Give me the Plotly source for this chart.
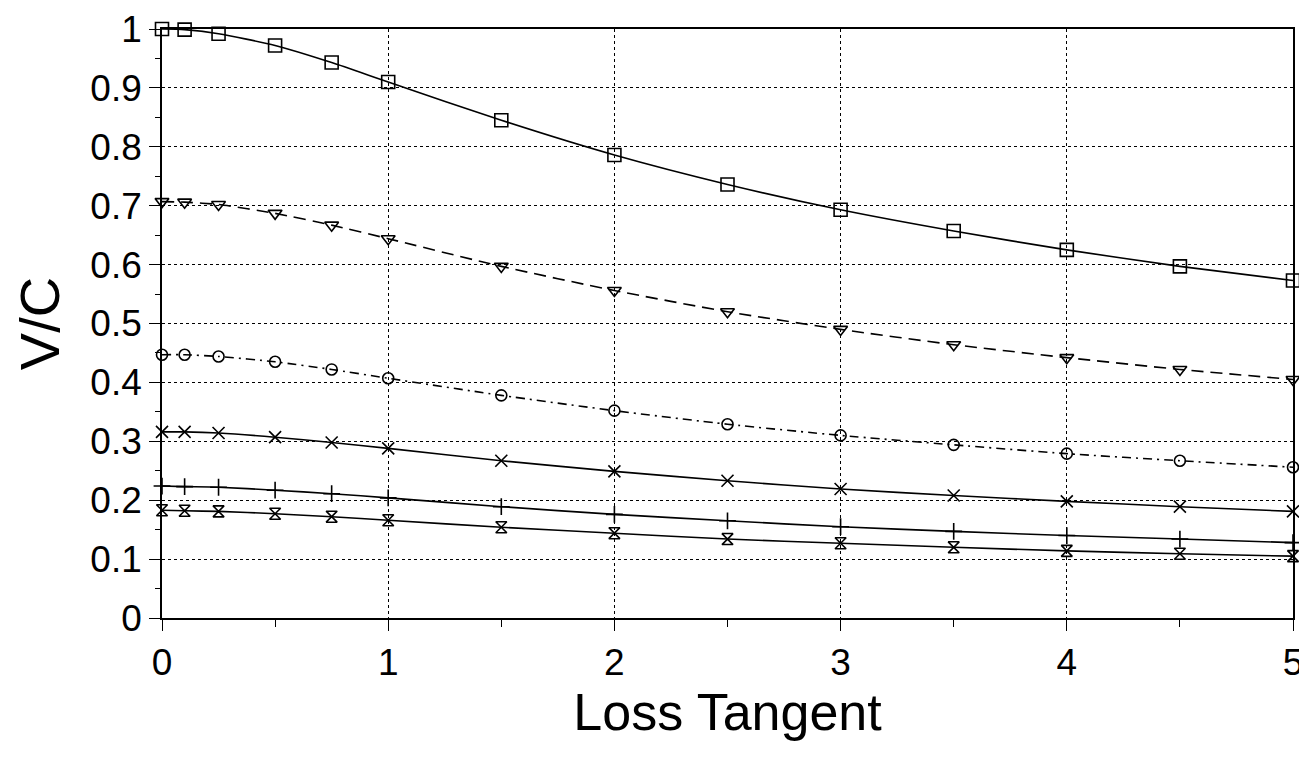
import plotly.graph_objects as go

loss_tangent = [0, 0.1, 0.25, 0.5, 0.75, 1, 1.5, 2, 2.5, 3, 3.5, 4, 4.5, 5]

vc_square = [1.000, 0.999, 0.992, 0.972, 0.943, 0.910, 0.845, 0.786, 0.736, 0.693, 0.657, 0.625, 0.597, 0.573]
vc_triangle = [0.707, 0.706, 0.702, 0.687, 0.667, 0.644, 0.597, 0.556, 0.520, 0.490, 0.464, 0.442, 0.422, 0.405]
vc_circle = [0.447, 0.447, 0.444, 0.435, 0.422, 0.407, 0.378, 0.352, 0.329, 0.310, 0.294, 0.279, 0.267, 0.256]
vc_x = [0.316, 0.316, 0.314, 0.307, 0.298, 0.288, 0.267, 0.249, 0.233, 0.219, 0.208, 0.198, 0.189, 0.181]
vc_plus = [0.224, 0.223, 0.222, 0.217, 0.211, 0.204, 0.189, 0.176, 0.165, 0.155, 0.147, 0.140, 0.134, 0.128]
vc_hourglass = [0.183, 0.182, 0.181, 0.177, 0.172, 0.166, 0.154, 0.144, 0.134, 0.127, 0.120, 0.114, 0.109, 0.105]

series = [
    (vc_square, "square-open", "solid", 13),
    (vc_triangle, "triangle-down-open", "12px,7px", 12),
    (vc_circle, "circle-open", "9px,5px,2px,5px", 11),
    (vc_x, "x-thin-open", "solid", 12),
    (vc_plus, "cross-thin-open", "solid", 12),
    (vc_hourglass, "hourglass-open", "solid", 11),
]

fig = go.Figure()
for ys, sym, dash, size in series:
    fig.add_trace(go.Scatter(
        x=loss_tangent, y=ys, mode="lines+markers",
        line=dict(color="black", width=1.6, dash=dash, shape="spline", smoothing=0.6),
        marker=dict(symbol=sym, size=size, color="black", line=dict(color="black", width=1.6)),
        cliponaxis=False, showlegend=False,
    ))

font_family = "Liberation Sans, Arial, sans-serif"

fig.update_layout(
    width=1299, height=752,
    margin=dict(l=154, r=14, t=21, b=142, autoexpand=False),
    paper_bgcolor="white", plot_bgcolor="white",
    font=dict(family=font_family, color="black"),
)

fig.update_xaxes(
    range=[0, 5], tickmode="array", tickvals=[0, 1, 2, 3, 4, 5],
    ticktext=["0", "1", "2", "3", "4", "5"],
    showgrid=True, gridcolor="black", griddash="dot", gridwidth=1.3,
    showline=True, linecolor="black", linewidth=1.6, mirror=True,
    ticks="outside", ticklen=11, tickwidth=1.3, tickcolor="black",
    minor=dict(tickvals=[0.5, 1.5, 2.5, 3.5, 4.5], ticks="outside", ticklen=7, tickwidth=1.3, tickcolor="black", showgrid=False),
    tickfont=dict(size=37, family=font_family),
    title=dict(text="Loss Tangent", font=dict(size=52, family=font_family), standoff=4),
    zeroline=False, automargin=False,
)

fig.update_yaxes(
    range=[0, 1], tickmode="array",
    tickvals=[0, 0.1, 0.2, 0.3, 0.4, 0.5, 0.6, 0.7, 0.8, 0.9, 1],
    ticktext=["0", "0.1", "0.2", "0.3", "0.4", "0.5", "0.6", "0.7", "0.8", "0.9", "1"],
    showgrid=True, gridcolor="black", griddash="dot", gridwidth=1.3,
    showline=True, linecolor="black", linewidth=1.6, mirror=True,
    ticks="outside", ticklen=11, tickwidth=1.3, tickcolor="black",
    minor=dict(tickvals=[0.05, 0.15, 0.25, 0.35, 0.45, 0.55, 0.65, 0.75, 0.85, 0.95],
               ticks="outside", ticklen=5, tickwidth=1.3, tickcolor="black", showgrid=False),
    tickfont=dict(size=37, family=font_family),
    title=dict(text="V/C", font=dict(size=56, family=font_family), standoff=32),
    zeroline=False, automargin=False,
)

fig.write_html("out.html")
